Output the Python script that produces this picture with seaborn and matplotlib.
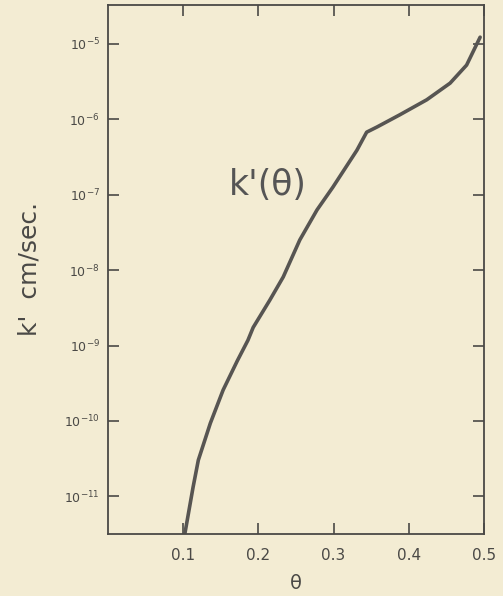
import numpy as np
import pandas as pd
import seaborn as sns
import matplotlib.pyplot as plt

# valores (theta, log10 k')
theta = [0.102, 0.113, 0.120, 0.136, 0.153, 0.172, 0.186, 0.193, 0.215, 0.233,
         0.255, 0.278, 0.299, 0.331, 0.344, 0.358, 0.388, 0.424, 0.455, 0.477, 0.495]
log_k = [-11.5, -10.88, -10.52, -10.03, -9.59, -9.20, -8.93, -8.76, -8.40, -8.09,
         -7.60, -7.20, -6.90, -6.41, -6.17, -6.10, -5.94, -5.74, -5.52, -5.28, -4.91]

x_ticks = [0.1, 0.2, 0.3, 0.4, 0.5]
x_labels = ['0.1', '0.2', '0.3', '0.4', '0.5']
y_exps = [-5, -6, -7, -8, -9, -10, -11]

df = pd.DataFrame({'theta': theta, 'k': [10.0 ** v for v in log_k]})

sns.set_style('ticks')
plt.rcParams['font.family'] = ['DejaVu Sans']
papel = '#f3ecd3'
tinta = '#4a4946'

fig = plt.figure(figsize=(5.03, 5.96), dpi=100, facecolor=papel)
ax = fig.add_axes([0.215, 0.104, 0.747, 0.888])
ax.set_facecolor(papel)

sns.lineplot(data=df, x='theta', y='k', ax=ax, color='#575552', linewidth=2.6)

ax.set_yscale('log')
ax.set_xlim(0, 0.5)
ax.set_ylim(10 ** -11.5, 10 ** -4.48)

ax.set_xticks(x_ticks)
ax.set_xticklabels(x_labels, fontsize=11, color=tinta)
ax.set_yticks([10.0 ** e for e in y_exps])
ax.set_yticklabels(['$10^{%d}$' % e for e in y_exps], fontsize=9, color=tinta)
ax.minorticks_off()
ax.tick_params(direction='in', length=8, width=1.2, color=tinta,
               top=True, right=True)
ax.tick_params(axis='x', pad=10)
ax.tick_params(axis='y', pad=6)

for s in ax.spines.values():
    s.set_color(tinta)
    s.set_linewidth(1.3)

ax.set_xlabel('θ', fontsize=14, color=tinta, labelpad=8)
ax.set_ylabel("k'  cm/sec.", fontsize=18, color=tinta, labelpad=16)

ax.text(0.16, 10 ** -7.0, "k'(θ)", fontsize=25, color='#555555', va='baseline')

fig.savefig('out.png', dpi=100, facecolor=papel)
